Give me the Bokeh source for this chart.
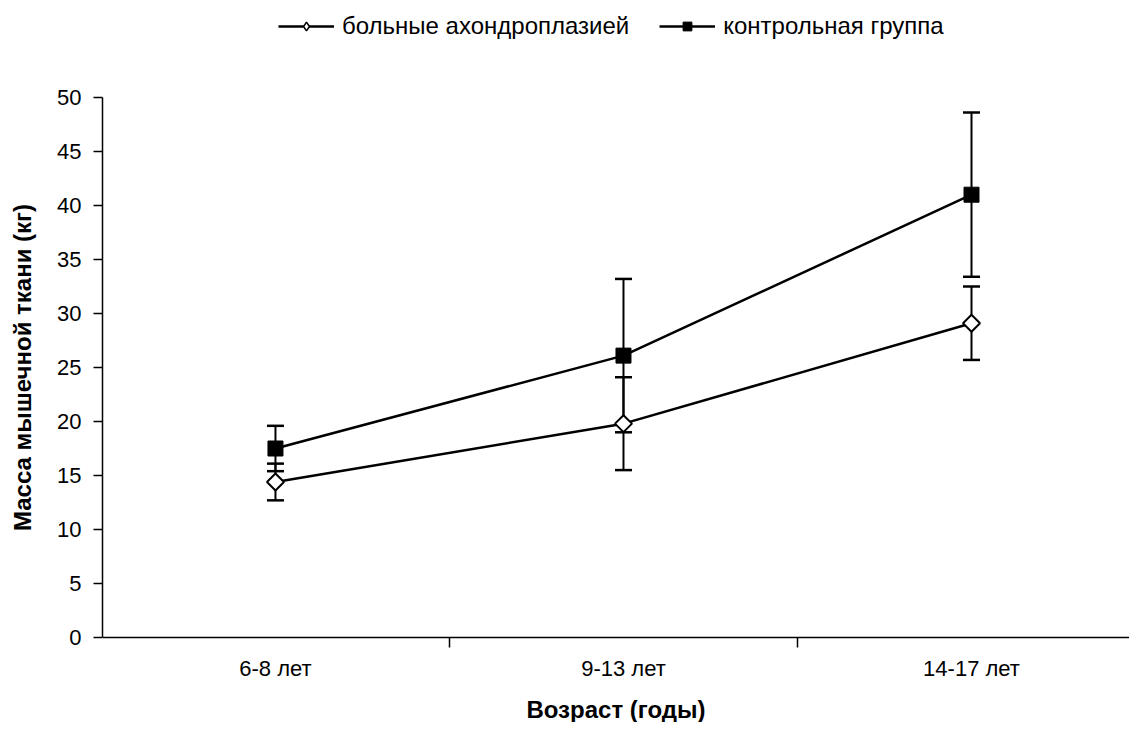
import math
from bokeh.plotting import figure
from bokeh.models import (ColumnDataSource, Range1d, FixedTicker, Whisker, TeeHead,
                          Legend, LegendItem)
from bokeh.embed import file_html
from bokeh.resources import INLINE

# ---- data ----
categories = ["6-8 лет", "9-13 лет", "14-17 лет"]
patients = [14.4, 19.8, 29.1]
patients_err = [1.7, 4.3, 3.4]
control = [17.5, 26.1, 41.0]
control_err = [2.1, 7.1, 7.6]
y_ticks = [0, 5, 10, 15, 20, 25, 30, 35, 40, 45, 50]
series_names = ["больные ахондроплазией", "контрольная группа"]

xs = list(range(1, len(categories) + 1))

src_p = ColumnDataSource(dict(
    x=xs, y=patients,
    upper=[v + e for v, e in zip(patients, patients_err)],
    lower=[v - e for v, e in zip(patients, patients_err)]))
src_c = ColumnDataSource(dict(
    x=xs, y=control,
    upper=[v + e for v, e in zip(control, control_err)],
    lower=[v - e for v, e in zip(control, control_err)]))

FONT = "Liberation Sans"
X_RANGE = (0.503, 3.454)

# frame spans 12..722 px; value 50 sits at 97 px and 0 at 637 px
p = figure(width=1129, height=722, output_backend="svg", toolbar_location=None,
           x_range=Range1d(*X_RANGE), y_range=Range1d(-7.87, 57.87),
           min_border_left=102, min_border_right=0, min_border_top=12,
           min_border_bottom=0)
p.outline_line_color = None
p.grid.grid_line_color = None
p.background_fill_color = "white"
p.border_fill_color = "white"

# error bars
for src in (src_p, src_c):
    w = Whisker(base="x", upper="upper", lower="lower", source=src,
                line_color="black", line_width=2,
                upper_head=TeeHead(size=17, line_color="black", line_width=2.5),
                lower_head=TeeHead(size=17, line_color="black", line_width=2.5))
    p.add_layout(w)

lp = p.line("x", "y", source=src_p, line_color="black", line_width=2.5)
lc = p.line("x", "y", source=src_c, line_color="black", line_width=2.5)
# small diamond used as the legend glyph (hidden under the plotted diamond)
sp_leg = p.scatter("x", "y", source=src_p, marker="diamond", size=15,
                   fill_color="white", line_color="black", line_width=1.5)
sp = p.scatter("x", "y", source=src_p, marker="square", angle=math.pi / 4, size=12,
               fill_color="white", line_color="black", line_width=2)
sc = p.scatter("x", "y", source=src_c, marker="square", size=15,
               fill_color="black", line_color="black", line_width=1)

# x axis (drawn at y = 0)
xa = p.xaxis[0]
xa.fixed_location = 0
xa.bounds = X_RANGE
xa.ticker = FixedTicker(ticks=xs, minor_ticks=[x + 0.5 for x in xs[:-1]])
xa.major_label_overrides = {x: c for x, c in zip(xs, categories)}
xa.major_tick_out = 0
xa.major_tick_in = 0
xa.minor_tick_out = 10
xa.minor_tick_in = 0
xa.minor_tick_line_color = "black"
xa.minor_tick_line_width = 1.5
xa.axis_line_color = "black"
xa.axis_line_width = 1.5
xa.major_label_text_font = FONT
xa.major_label_text_font_size = "22px"
xa.major_label_text_color = "black"
xa.major_label_standoff = 8
xa.axis_label = "Возраст (годы)"
xa.axis_label_text_font = FONT
xa.axis_label_text_font_size = "24px"
xa.axis_label_text_font_style = "bold"
xa.axis_label_text_color = "black"
xa.axis_label_standoff = 12

# y axis
ya = p.yaxis[0]
ya.ticker = FixedTicker(ticks=y_ticks)
ya.bounds = (y_ticks[0], y_ticks[-1])
ya.major_tick_out = 9
ya.major_tick_in = 0
ya.minor_tick_line_color = None
ya.major_tick_line_color = "black"
ya.major_tick_line_width = 1.5
ya.axis_line_color = "black"
ya.axis_line_width = 1.5
ya.major_label_text_font = FONT
ya.major_label_text_font_size = "22px"
ya.major_label_text_color = "black"
ya.major_label_standoff = 12
ya.axis_label = "Масса мышечной ткани (кг)"
ya.axis_label_text_font = FONT
ya.axis_label_text_font_size = "24px"
ya.axis_label_text_font_style = "bold"
ya.axis_label_text_color = "black"
ya.axis_label_standoff = 18

legend = Legend(items=[LegendItem(label=series_names[0], renderers=[lp, sp_leg]),
                       LegendItem(label=series_names[1], renderers=[lc, sc])],
                orientation="horizontal", location=(176, 682),
                border_line_color=None, background_fill_alpha=0,
                label_text_font=FONT, label_text_font_size="24px",
                label_text_color="black",
                glyph_width=56, glyph_height=22, spacing=30, padding=0, margin=0,
                label_standoff=8)
p.add_layout(legend)

open("out.html", "w").write(file_html(p, INLINE))
